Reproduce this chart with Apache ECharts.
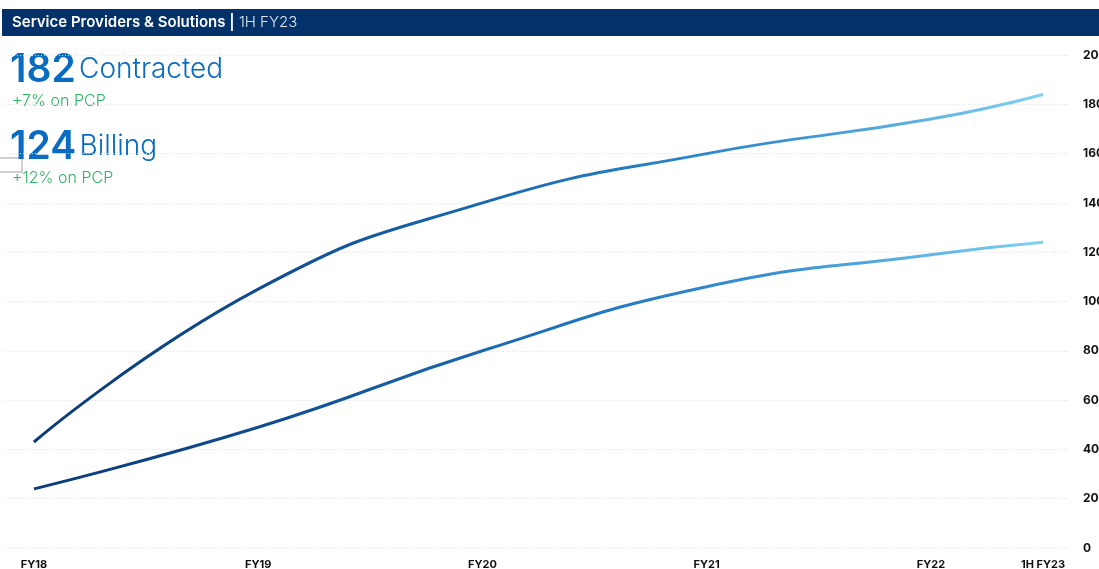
<!DOCTYPE html>
<html>
<head>
<meta charset="utf-8">
<script src="https://cdn.jsdelivr.net/npm/echarts@6/dist/echarts.min.js"></script>
<style>
  html, body { margin: 0; padding: 0; background: #fff; }
  #chart { width: 1099px; height: 569px; }
</style>
</head>
<body>
<div id="chart"></div>
<script>
  // x positions: one per financial year, 1H FY23 sits half a year after FY22
  const periods = [0, 1, 2, 3, 4, 4.5]
  const periodLabels = ['FY18', 'FY19', 'FY20', 'FY21', 'FY22', '1H FY23']
  const contracted = [43, 105, 140, 160, 174, 184]
  const billing = [24, 49, 80, 106, 119, 124]
  const yTicks = [0, 20, 40, 60, 80, 100, 120, 140, 160, 180, 200]

  const font = 'Inter, "Noto Sans", sans-serif'
  const chart = echarts.init(document.getElementById('chart'), null, { renderer: 'canvas' })

  function lineGradient() {
    return new echarts.graphic.LinearGradient(0, 0, 1, 0, [
      { offset: 0, color: '#0b3a78' },
      { offset: 0.25, color: '#114f92' },
      { offset: 0.5, color: '#1a6fb8' },
      { offset: 0.75, color: '#3b93d4' },
      { offset: 1, color: '#82d2f2' },
    ])
  }

  function pairs(vals) {
    return periods.map((p, i) => [p, vals[i]])
  }

  const option = {
    animation: false,
    backgroundColor: '#fff',
    grid: { left: 5, right: 29, top: 55, bottom: 21, containLabel: false, outerBoundsMode: 'none' },
    xAxis: {
      type: 'value',
      min: -0.129,
      max: 4.62,
      axisLine: { show: false },
      axisTick: { show: false },
      splitLine: { show: false },
      axisLabel: {
        customValues: periods,
        margin: 11,
        color: '#111',
        fontFamily: font,
        fontWeight: 'bold',
        fontSize: 11,
        formatter: (v) => periodLabels[periods.indexOf(v)] ?? '',
      },
    },
    yAxis: {
      type: 'value',
      position: 'right',
      min: 0,
      max: 200,
      interval: 20,
      axisLine: { show: false },
      axisTick: { show: false },
      axisLabel: {
        margin: 13,
        color: '#111',
        fontFamily: font,
        fontWeight: 'bold',
        fontSize: 12,
        formatter: (v) => (yTicks.includes(v) ? String(v) : ''),
      },
      splitLine: { lineStyle: { color: '#e2e2e2', type: [1, 2], width: 1 } },
    },
    series: [
      {
        name: 'Contracted',
        type: 'line',
        data: pairs(contracted),
        smooth: 0.5,
        showSymbol: false,
        lineStyle: { width: 3, color: lineGradient() },
      },
      {
        name: 'Billing',
        type: 'line',
        data: pairs(billing),
        smooth: 0.5,
        showSymbol: false,
        lineStyle: { width: 3, color: lineGradient() },
      },
    ],
    graphic: [
      { type: 'rect', shape: { x: 2, y: 9, width: 1097, height: 27 }, style: { fill: '#03316a' } },
      {
        type: 'text',
        x: 12,
        y: 22,
        style: {
          text: '{b|Service Providers & Solutions |}{l| 1H FY23}',
          verticalAlign: 'middle',
          rich: {
            b: { fill: '#fff', fontFamily: font, fontSize: 15, fontWeight: 600 },
            l: { fill: '#dfe6f0', fontFamily: font, fontSize: 15, fontWeight: 300 },
          },
        },
      },
      {
        type: 'text',
        x: 10,
        y: 70,
        style: {
          text: '{n|182} {t|Contracted}',
          verticalAlign: 'middle',
          rich: {
            n: { fill: '#0a6cc0', fontFamily: font, fontSize: 39, fontWeight: 600 },
            t: { fill: '#0a6cc0', fontFamily: font, fontSize: 28, fontWeight: 300 },
          },
        },
      },
      {
        type: 'text',
        x: 12,
        y: 101,
        style: { text: '+7% on PCP', fill: '#2eb462', fontFamily: font, fontSize: 16, fontWeight: 300, verticalAlign: 'middle' },
      },
      {
        type: 'rect',
        shape: { x: -2, y: 158, width: 24, height: 14 },
        style: { fill: 'none', stroke: '#cfcfcf', lineWidth: 2 },
      },
      {
        type: 'text',
        x: 10,
        y: 147,
        style: {
          text: '{n|124} {t|Billing}',
          verticalAlign: 'middle',
          rich: {
            n: { fill: '#0a6cc0', fontFamily: font, fontSize: 39, fontWeight: 600 },
            t: { fill: '#0a6cc0', fontFamily: font, fontSize: 28, fontWeight: 300 },
          },
        },
      },
      {
        type: 'text',
        x: 12,
        y: 178,
        style: { text: '+12% on PCP', fill: '#2eb462', fontFamily: font, fontSize: 16, fontWeight: 300, verticalAlign: 'middle' },
      },
    ],
  }

  chart.setOption(option)
</script>
</body>
</html>
